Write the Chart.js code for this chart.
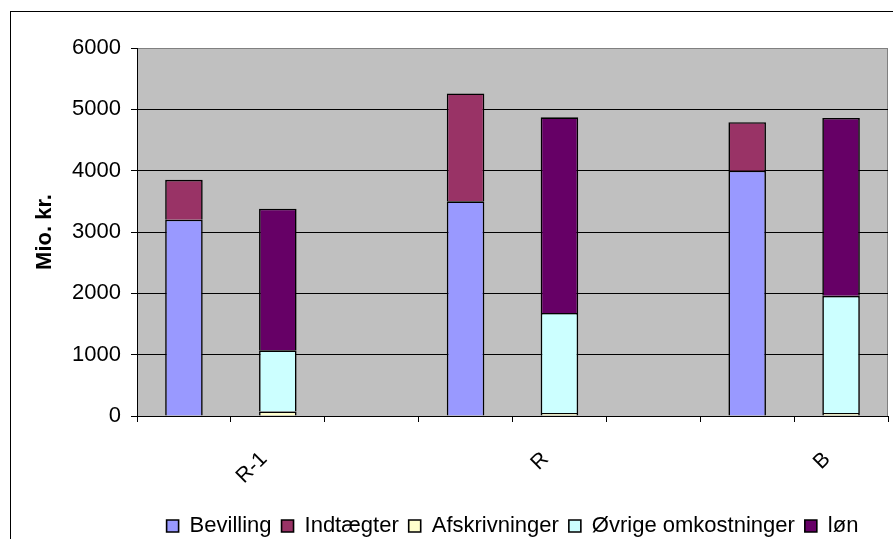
<!DOCTYPE html>
<html>
<head>
<meta charset="utf-8">
<script src="https://cdn.jsdelivr.net/npm/chart.js@4/dist/chart.umd.min.js"></script>
<style>
    html, body { margin: 0; padding: 0; background: #fff; overflow: hidden; }
    #wrap { position: relative; width: 893px; height: 539px; }
    #frame {
        position: absolute; left: 10px; top: 11px; width: 900px; height: 540px;
        border-top: 1px solid #000; border-left: 1px solid #000;
        pointer-events: none;
    }
</style>
</head>
<body>
<div id="wrap">
    <canvas id="chart" width="893" height="539"></canvas>
    <div id="frame"></div>
</div>
<script>
// Kategorier (tomme pladser giver luft mellem årene)
const categories = ['', 'R-1', '', '', 'R', '', '', 'B'];

// Indtægtssiden
const bevilling   = [3200, null, null, 3500, null, null, 4000, null];
const indtaegter  = [650,  null, null, 1760, null, null, 790,  null];

// Udgiftssiden
const afskrivninger = [null, 75,   null, null, 50,   null, null, 50];
const oevrige       = [null, 995,  null, null, 1630, null, null, 1910];
const loen          = [null, 2310, null, null, 3190, null, null, 2900];

const yTicks = [0, 1000, 2000, 3000, 4000, 5000, 6000];

// --------------------------------------------------------------------------

const font = { family: '"Liberation Sans", Arial, sans-serif', size: 22 };

// Grå baggrund i plotområdet
const plotBackground = {
    id: 'plotBackground',
    beforeDraw: chart => {
        const { ctx, chartArea: a } = chart;
        ctx.save();
        ctx.fillStyle = '#c0c0c0';
        ctx.fillRect(a.left, a.top, a.right - a.left, a.bottom - a.top);
        ctx.strokeStyle = '#808080';
        ctx.lineWidth = 1;
        ctx.strokeRect(a.left + 0.5, a.top + 0.5, a.right - a.left - 1, a.bottom - a.top);
        ctx.restore();
    }
};

const bar = (label, data, color) => ({
    label,
    data,
    backgroundColor: color,
    borderColor: '#000',
    borderWidth: 1.6,
    barPercentage: 0.4,
    categoryPercentage: 1
});

new Chart(document.getElementById('chart').getContext('2d'), {
    type: 'bar',
    data: {
        labels: categories,
        datasets: [
            bar('Bevilling', bevilling, '#9999ff'),
            bar('Indtægter', indtaegter, '#993366'),
            bar('Afskrivninger', afskrivninger, '#ffffcc'),
            bar('Øvrige omkostninger', oevrige, '#ccffff'),
            bar('løn', loen, '#660066')
        ]
    },
    options: {
        responsive: false,
        animation: false,
        layout: { padding: { left: 28, top: 48, right: 5, bottom: -8 } },
        scales: {
            x: {
                stacked: true,
                afterFit: s => { s.height = 89; },
                border: { color: '#000', width: 1 },
                grid: {
                    offset: true,
                    drawOnChartArea: false,
                    drawTicks: true,
                    tickLength: 6,
                    color: '#000'
                },
                ticks: {
                    autoSkip: false,
                    maxRotation: 45,
                    minRotation: 45,
                    padding: 25,
                    labelOffset: -14,
                    color: '#000',
                    font: { ...font, size: 21 }
                }
            },
            y: {
                stacked: true,
                min: 0,
                max: 6000,
                afterFit: s => { s.width = 109; },
                afterBuildTicks: s => { s.ticks = yTicks.map(v => ({ value: v })); },
                border: { color: '#000', width: 1 },
                grid: {
                    color: c => c.tick && c.tick.value === 6000 ? '#808080' : '#000',
                    tickColor: '#000',
                    tickLength: 6
                },
                ticks: {
                    padding: 10,
                    color: '#000',
                    font,
                    callback: v => String(v)
                },
                title: {
                    display: true,
                    text: 'Mio. kr.',
                    color: '#000',
                    font: { ...font, weight: 'bold' }
                }
            }
        },
        plugins: {
            legend: {
                position: 'bottom',
                fullSize: false,
                labels: {
                    boxWidth: 12,
                    boxHeight: 12,
                    padding: 10,
                    color: '#000',
                    font
                }
            },
            tooltip: { enabled: false }
        }
    },
    plugins: [plotBackground]
});
</script>
</body>
</html>
